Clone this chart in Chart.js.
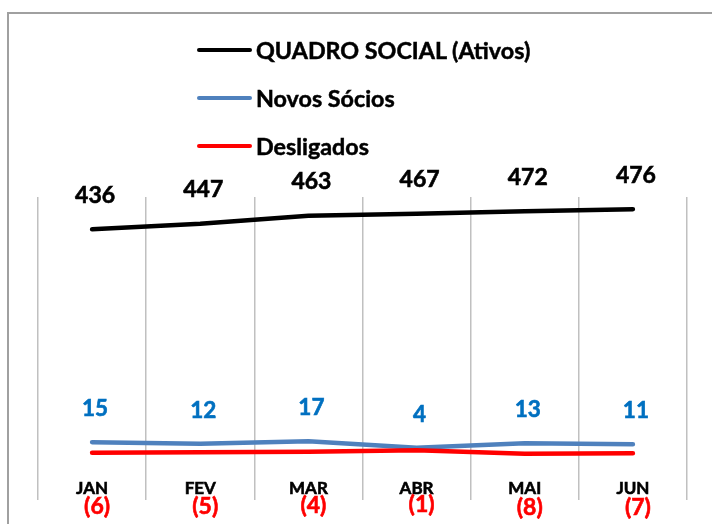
<!DOCTYPE html>
<html><head><meta charset="utf-8">
<script src="https://cdn.jsdelivr.net/npm/chart.js@4"></script>
<style>
html,body{margin:0;padding:0;width:712px;height:524px;overflow:hidden;background:#fff;}
#frame{position:absolute;left:7px;top:12px;width:800px;height:700px;border:2px solid #a0a0a0;box-sizing:border-box;}
#wrap{position:absolute;left:0;top:0;width:712px;height:524px;}
#legend{position:absolute;left:197px;top:26px;font-family:Lato,"DejaVu Sans",sans-serif;font-weight:bold;font-size:23.3px;color:#000;-webkit-text-stroke:0.5px #000;}
.item{display:flex;align-items:center;height:48px;white-space:nowrap;}
.swatch{width:55px;height:4.5px;border-radius:3px;margin-right:4px;}
</style>
</head><body>
<div id="frame"></div>
<div id="wrap"><canvas id="c" width="712" height="524"></canvas></div>
<div id="legend"></div>
<script>
const months = ["JAN","FEV","MAR","ABR","MAI","JUN"];
const quadroSocial = [436,447,463,467,472,476];
const novosSocios = [15,12,17,4,13,11];
const desligados = [-6,-5,-4,-1,-8,-7];

const seriesNames = ["QUADRO SOCIAL (Ativos)","Novos Sócios","Desligados"];
const lineColors = ["#000000","#4f81bd","#ff0000"];
const labelColors = ["#000000","#0070c0","#ff0000"];

const valueLabels = {
  id:'valueLabels',
  afterDatasetsDraw(chart, args, opts){
    const ctx = chart.ctx;
    ctx.save();
    chart.data.datasets.forEach((ds,i)=>{
      const meta = chart.getDatasetMeta(i);
      const o = opts.offsets[i];
      ctx.font = o.font;
      ctx.fillStyle = labelColors[i];
      ctx.strokeStyle = labelColors[i];
      ctx.lineWidth = 0.6;
      ctx.textAlign='center';
      ctx.textBaseline='middle';
      meta.data.forEach((pt,j)=>{
        const v = ds.data[j];
        const txt = v < 0 ? '(' + Math.abs(v) + ')' : String(v);
        ctx.fillText(txt, pt.x + o.dx, pt.y + o.dy);
        ctx.strokeText(txt, pt.x + o.dx, pt.y + o.dy);
      });
    });
    ctx.restore();
  }
};

const chart = new Chart(document.getElementById('c'), {
  type:'line',
  data:{
    labels: months,
    datasets:[
      {label:seriesNames[0], data:quadroSocial, borderColor:lineColors[0], backgroundColor:lineColors[0], order:1},
      {label:seriesNames[1], data:novosSocios, borderColor:lineColors[1], backgroundColor:lineColors[1], order:3},
      {label:seriesNames[2], data:desligados, borderColor:lineColors[2], backgroundColor:lineColors[2], order:2}
    ]
  },
  options:{
    responsive:false,
    animation:false,
    devicePixelRatio:1,
    layout:{padding:{left:38,right:25,top:197,bottom:0}},
    elements:{
      line:{borderWidth:4.5, tension:0, borderCapStyle:'round', borderJoinStyle:'round'},
      point:{radius:0, hoverRadius:0}
    },
    plugins:{
      legend:{display:false},
      tooltip:{enabled:false},
      valueLabels:{
        offsets:[
          {dx:3, dy:-34, font:'bold 23px Lato, "DejaVu Sans", sans-serif'},
          {dx:3, dy:-33, font:'bold 22.5px Lato, "DejaVu Sans", sans-serif'},
          {dx:5, dy:54, font:'bold 23px Lato, "DejaVu Sans", sans-serif'}
        ]
      }
    },
    scales:{
      x:{
        offset:true,
        grid:{display:true, offset:true, color:'#c0c0c0', lineWidth:1.5, drawTicks:true, tickLength:25, tickColor:'#c0c0c0'},
        border:{display:false},
        ticks:{padding:-22, color:'#000', textStrokeColor:'#000', textStrokeWidth:0.6, font:{family:'Lato', weight:'bold', size:17}},
        afterFit(scale){ scale.height = 49; }
      },
      y:{display:false, min:-50, max:500}
    }
  },
  plugins:[valueLabels]
});

const leg = document.getElementById('legend');
seriesNames.forEach((n,i)=>{
  const it = document.createElement('div'); it.className='item';
  const sw = document.createElement('div'); sw.className='swatch'; sw.style.background=lineColors[i];
  const tx = document.createElement('span'); tx.textContent=n;
  it.appendChild(sw); it.appendChild(tx); leg.appendChild(it);
});
</script>
</body></html>
